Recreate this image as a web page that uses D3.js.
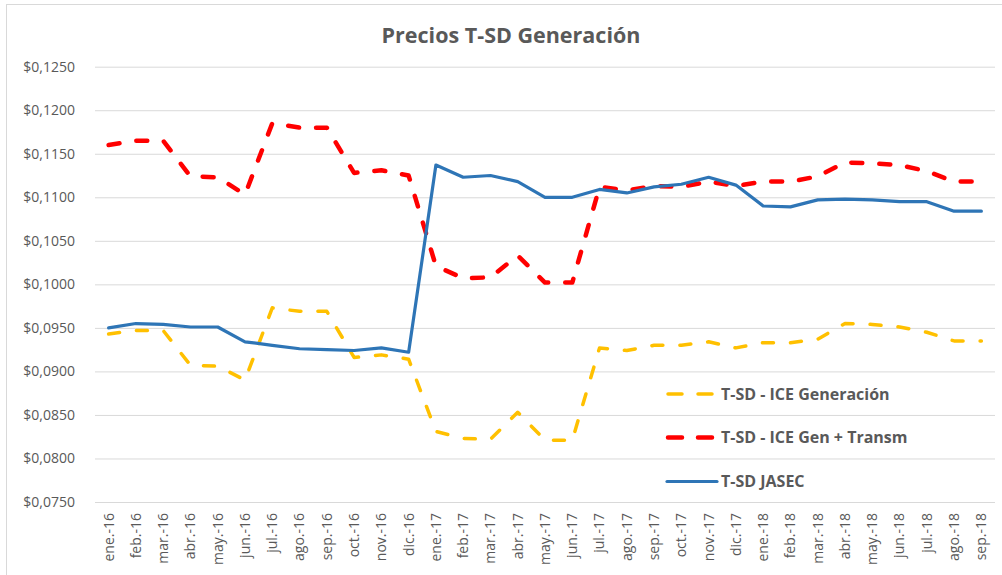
<!DOCTYPE html>
<html>
<head>
<meta charset="utf-8">
<script src="https://d3js.org/d3.v7.min.js"></script>
<style>
  body { margin: 0; background: #fff; }
  svg { display: block; font-family: "Open Sans", sans-serif; }
</style>
</head>
<body>
<div id="chart"></div>
<script>
const months = ['ene.-16','feb.-16','mar.-16','abr.-16','may.-16','jun.-16','jul.-16','ago.-16','sep.-16','oct.-16','nov.-16','dic.-16',
  'ene.-17','feb.-17','mar.-17','abr.-17','may.-17','jun.-17','jul.-17','ago.-17','sep.-17','oct.-17','nov.-17','dic.-17',
  'ene.-18','feb.-18','mar.-18','abr.-18','may.-18','jun.-18','jul.-18','ago.-18','sep.-18'];

const iceGen = [0.0943,0.0947,0.0947,0.0907,0.0906,0.0890,0.0973,0.0969,0.0969,0.0916,0.0919,0.0914,
  0.0831,0.0823,0.0822,0.0853,0.0821,0.0821,0.0927,0.0924,0.0930,0.0930,0.0934,0.0927,
  0.0933,0.0933,0.0937,0.0955,0.0954,0.0951,0.0945,0.0935,0.0935];

const iceGenTrans = [0.1160,0.1165,0.1165,0.1124,0.1123,0.1103,0.1185,0.1180,0.1180,0.1128,0.1131,0.1125,
  0.1021,0.1007,0.1008,0.1033,0.1002,0.1002,0.1112,0.1108,0.1113,0.1112,0.1118,0.1113,
  0.1118,0.1118,0.1124,0.1140,0.1139,0.1137,0.1130,0.1118,0.1118];

const jasec = [0.0950,0.0955,0.0954,0.0951,0.0951,0.0934,0.0930,0.0926,0.0925,0.0924,0.0927,0.0922,
  0.1137,0.1123,0.1125,0.1118,0.1100,0.1100,0.1109,0.1105,0.1112,0.1115,0.1123,0.1114,
  0.1090,0.1089,0.1097,0.1098,0.1097,0.1095,0.1095,0.1084,0.1084];

const yTicks = [0.075,0.080,0.085,0.090,0.095,0.100,0.105,0.110,0.115,0.120,0.125];

const seriesNames = ['T-SD - ICE Generación','T-SD - ICE Gen + Transm','T-SD JASEC'];

const textColor = '#595959';
const gridColor = '#D9D9D9';

const width = 1002, height = 575;
const plot = {left: 95, right: 995, top: 66.7, bottom: 502};

const svg = d3.select('#chart').append('svg')
    .attr('width', width)
    .attr('height', height);

// chart border (cut off at right/bottom like the original)
svg.append('rect')
    .attr('x', 6.5).attr('y', 4.5)
    .attr('width', 1000).attr('height', 600)
    .attr('fill', '#fff')
    .attr('stroke', gridColor);

const x = d3.scaleBand().domain(months).range([plot.left, plot.right]);
const y = d3.scaleLinear().domain([0.075, 0.125]).range([plot.bottom, plot.top]);

const locale = d3.formatLocale({decimal: ',', thousands: '.', grouping: [3], currency: ['$', '']});
const fmt = locale.format('$.4f');

// Grid + y labels
const yAxis = d3.axisLeft(y).tickValues(yTicks).tickFormat(fmt)
    .tickSize(-(plot.right - plot.left)).tickPadding(20);

const gy = svg.append('g')
    .attr('transform', `translate(${plot.left},0)`)
    .call(yAxis);
gy.select('.domain').remove();
gy.selectAll('.tick line').attr('stroke', gridColor).attr('stroke-width', 1);
gy.selectAll('.tick text')
    .attr('fill', textColor)
    .style('font-size', '14px')
    .style('font-family', '"Open Sans", sans-serif');

// x labels
const xAxis = d3.axisBottom(x).tickSize(0).tickPadding(0);
const gx = svg.append('g')
    .attr('transform', `translate(0,${plot.bottom})`)
    .call(xAxis);
gx.select('.domain').remove();
gx.selectAll('.tick text')
    .attr('fill', textColor)
    .style('font-size', '14px')
    .style('font-family', '"Open Sans", sans-serif')
    .attr('text-anchor', 'end')
    .attr('transform', 'translate(0,11) rotate(-90)')
    .attr('x', 0).attr('y', 0).attr('dy', '0.35em');

// Title
svg.append('text')
    .attr('x', 511).attr('y', 43)
    .attr('text-anchor', 'middle')
    .attr('fill', textColor)
    .style('font-size', '21.5px')
    .style('font-weight', 'bold')
    .text('Precios T-SD Generación');

const line = d3.line()
    .x((d, i) => x(months[i]) + x.bandwidth() / 2)
    .y(d => y(d));

const styles = [
  {data: iceGen, color: '#FFC000', w: 3.5, dash: '11,17'},
  {data: iceGenTrans, color: '#FF0000', w: 4.5, dash: '11,17'},
  {data: jasec, color: '#2E75B6', w: 3.2, dash: null}
];

styles.forEach(s => {
  svg.append('path')
      .datum(s.data)
      .attr('d', line)
      .attr('fill', 'none')
      .attr('stroke', s.color)
      .attr('stroke-width', s.w)
      .attr('stroke-linejoin', 'round')
      .attr('stroke-linecap', 'round')
      .attr('stroke-dasharray', s.dash);
});

// Legend
const legendY = [394, 437.5, 481.5];
styles.forEach((s, i) => {
  const g = svg.append('g').attr('transform', `translate(0,${legendY[i]})`);
  if (s.dash) {
    g.append('line')
        .attr('x1', 668).attr('x2', 712)
        .attr('stroke', s.color).attr('stroke-width', s.w)
        .attr('stroke-linecap', 'round')
        .attr('stroke-dasharray', '14,16');
  } else {
    g.append('line')
        .attr('x1', 667).attr('x2', 717)
        .attr('stroke', s.color).attr('stroke-width', s.w)
        .attr('stroke-linecap', 'round');
  }
  g.append('text')
      .attr('x', 721).attr('y', 0).attr('dy', '0.35em')
      .attr('fill', textColor)
      .style('font-size', '16px')
      .style('font-weight', 'bold')
      .text(seriesNames[i]);
});
</script>
</body>
</html>
